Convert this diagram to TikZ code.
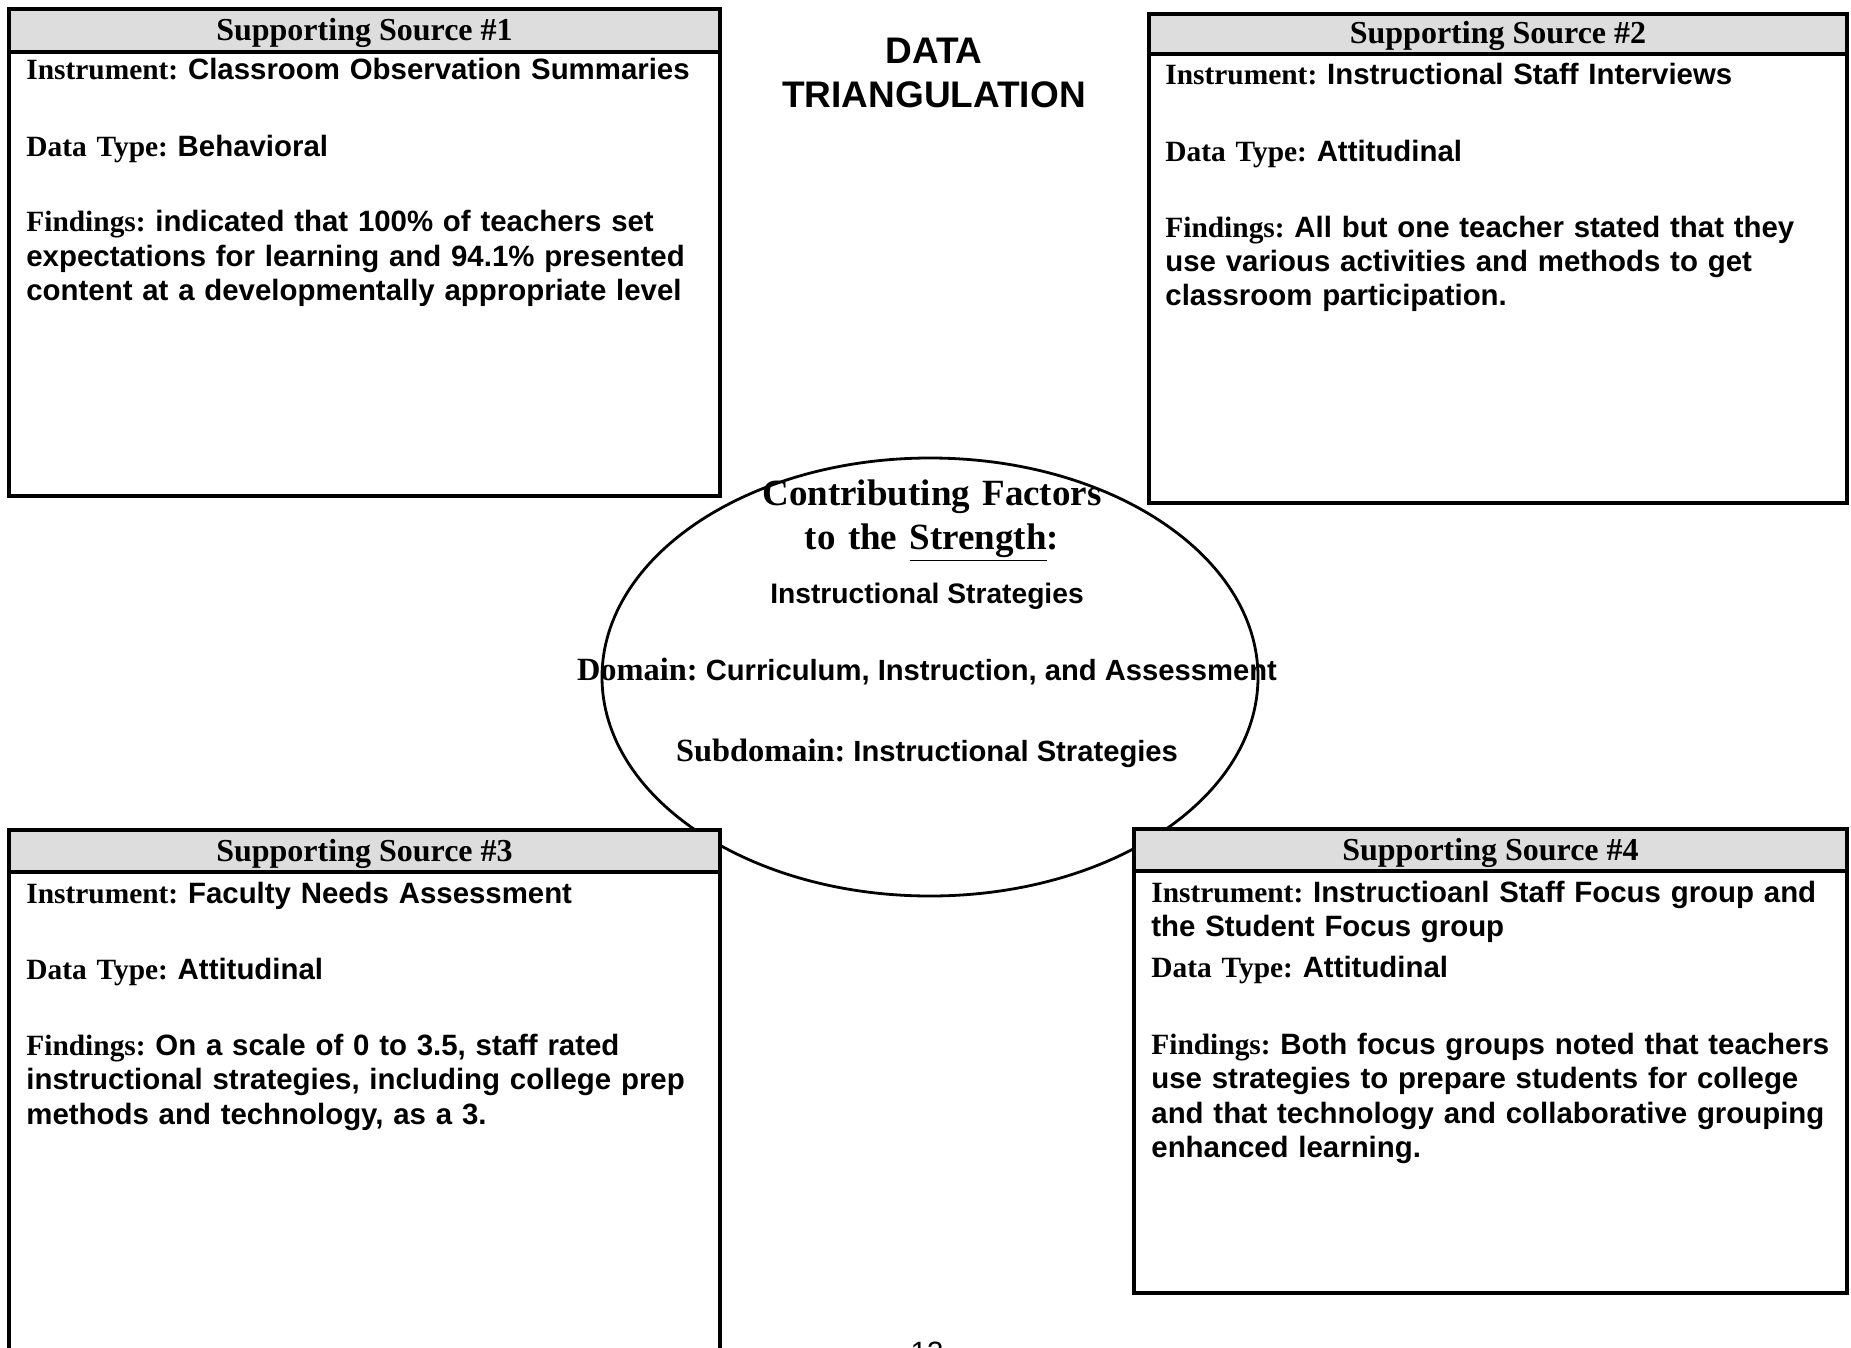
\documentclass[tikz,border=0pt]{standalone}
\usepackage{fontspec}
\setmainfont{Liberation Serif}
\setsansfont{Liberation Sans}
\usetikzlibrary{shapes.geometric}
\definecolor{grigiotesta}{RGB}{221,221,221}
\frenchspacing

\begin{document}
\begin{tikzpicture}[x=0.5pt, y=-0.5pt,
    bordo/.style={line width=2pt},
    corpo/.style={anchor=base west, text width=360pt, align=left, inner sep=0pt,
        font=\sffamily\bfseries\fontsize{14.7}{17.25}\selectfont},
    testata/.style={anchor=base, inner sep=0pt,
        font=\rmfamily\bfseries\fontsize{16}{18}\selectfont},
    centrale/.style={anchor=base, inner sep=0pt,
        font=\sffamily\bfseries\fontsize{14.6}{17}\selectfont}]

    \useasboundingbox (0,0) rectangle (1851,1348);

    % Etichette in grassetto con grazie
    \newcommand{\etic}[1]{{\rmfamily #1}}
    \newcommand{\eticg}[1]{{\rmfamily\fontsize{16.2}{18}\selectfont #1}}

    % Riquadro con testata grigia: sinistra, alto, destra, basso, fine testata
    \newcommand{\riquadro}[5]{
        \fill[white] (#1,#2) rectangle (#3,#4);
        \fill[grigiotesta] (#1,#2) rectangle (#3,#5);
        \draw[bordo] (#1,#2) rectangle (#3,#4);
        \draw[bordo] (#1,#5) -- (#3,#5);
    }

    % -- Ellisse centrale (sotto i riquadri) --
    \node[draw, ellipse, line width=1.4pt, minimum width=328pt, minimum height=219pt,
          inner sep=0pt] (centro) at (930,677) {};

    % -- Riquadri --
    \riquadro{9}{9}{720}{496}{52}
    \riquadro{1149}{14}{1847}{503}{54}
    \riquadro{9}{830}{720}{1365}{872}
    \riquadro{1134}{829}{1847}{1293}{871}

    % -- Titolo --
    \node[anchor=base, inner sep=0pt, text width=200pt, align=center,
          font=\sffamily\bfseries\fontsize{18.5}{21.8}\selectfont] (titolo) at (934,64)
          {DATA\\TRIANGULATION};

    % -- Fonte 1 --
    \node[testata] (t1) at (364.5,41) {Supporting Source \#1};
    \node[corpo] (s1ins) at (26,80) {\etic{Instrument:} Classroom Observation Summaries};
    \node[corpo] (s1tipo) at (26,157) {\etic{Data Type:} Behavioral};
    \node[corpo] (s1ris) at (26,232) {\etic{Findings:} indicated that 100\% of teachers set\\
        expectations for learning and 94.1\% presented\\
        content at a developmentally appropriate level};

    % -- Fonte 2 --
    \node[testata] (t2) at (1498,44) {Supporting Source \#2};
    \node[corpo] (s2ins) at (1165,85) {\etic{Instrument:} Instructional Staff Interviews};
    \node[corpo] (s2tipo) at (1165,162) {\etic{Data Type:} Attitudinal};
    \node[corpo] (s2ris) at (1165,237) {\etic{Findings:} All but one teacher stated that they\\
        use various activities and methods to get\\
        classroom participation.};

    % -- Fonte 3 --
    \node[testata] (t3) at (364.5,861) {Supporting Source \#3};
    \node[corpo] (s3ins) at (26,903) {\etic{Instrument:} Faculty Needs Assessment};
    \node[corpo] (s3tipo) at (26,979) {\etic{Data Type:} Attitudinal};
    \node[corpo] (s3ris) at (26,1055) {\etic{Findings:} On a scale of 0 to 3.5, staff rated\\
        instructional strategies, including college prep\\
        methods and technology, as a 3.};

    % -- Fonte 4 --
    \node[testata] (t4) at (1490.5,860) {Supporting Source \#4};
    \node[corpo] (s4ins) at (1151,902) {\etic{Instrument:} Instructioanl Staff Focus group and\\
        the Student Focus group};
    \node[corpo] (s4tipo) at (1151,977) {\etic{Data Type:} Attitudinal};
    \node[corpo] (s4ris) at (1151,1054) {\etic{Findings:} Both focus groups noted that teachers\\
        use strategies to prepare students for college\\
        and that technology and collaborative grouping\\
        enhanced learning.};

    % -- Testo dentro l'ellisse --
    \node[anchor=base, inner sep=0pt, text width=240pt, align=center,
          font=\rmfamily\bfseries\fontsize{18.5}{22}\selectfont] (fattori) at (932,505)
          {Contributing Factors\\to the \underline{Strength}:};
    \node[centrale, font=\sffamily\bfseries\fontsize{14.1}{17}\selectfont] (strategie)
          at (927,603) {Instructional Strategies};
    \node[centrale] (dominio) at (927,680) {\eticg{Domain:} Curriculum, Instruction, and Assessment};
    \node[centrale] (sottodominio) at (927,761) {\eticg{Subdomain:} Instructional Strategies};

    % numero di pagina, tagliato dal bordo
    \node[anchor=base, inner sep=0pt, font=\sffamily\fontsize{14.7}{17}\selectfont] (pagina)
          at (927,1362) {13};
\end{tikzpicture}
\end{document}
